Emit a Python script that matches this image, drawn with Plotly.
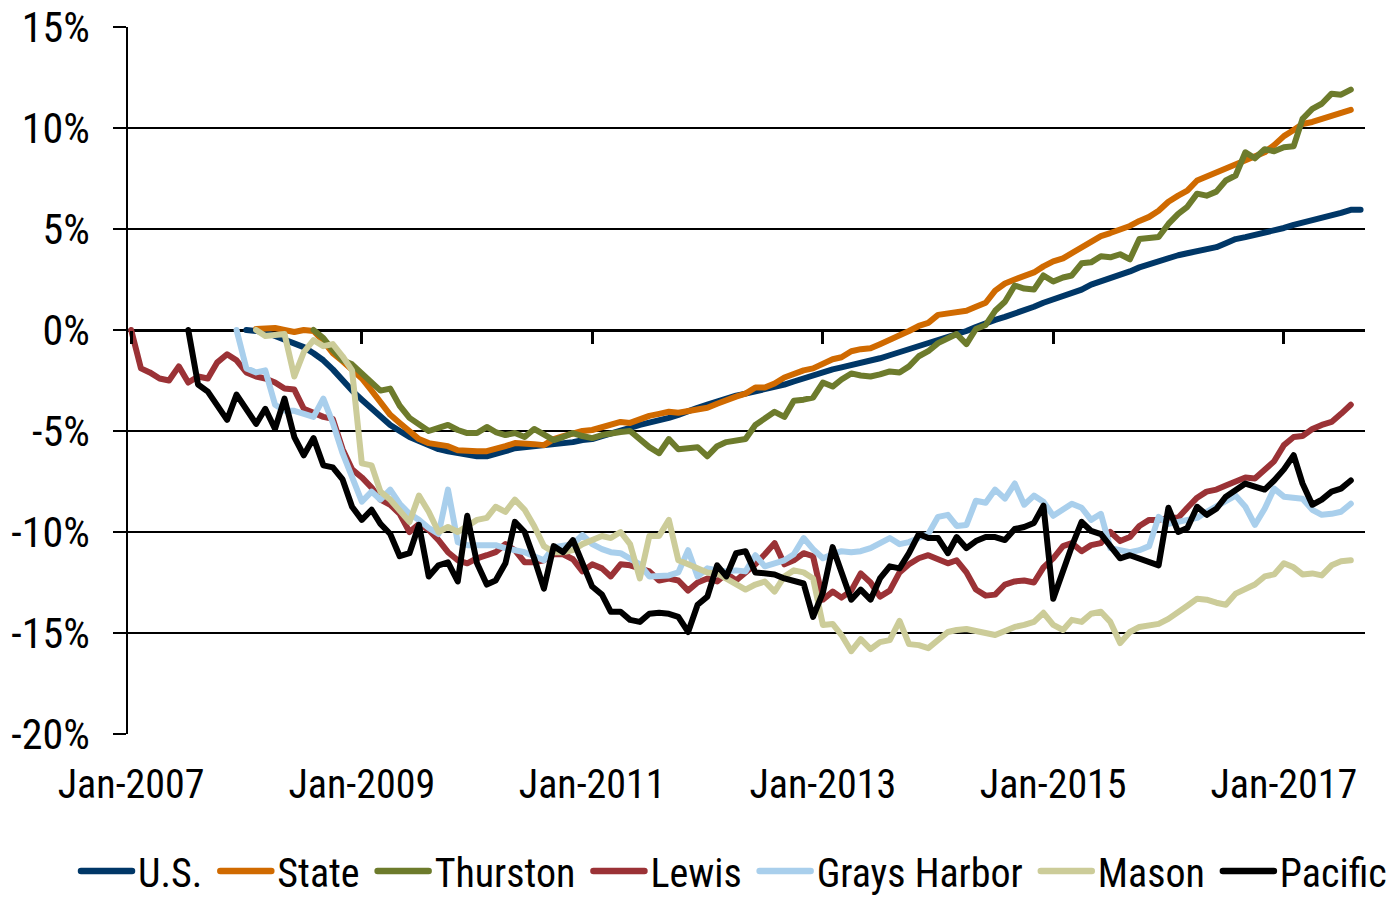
import pandas as pd
import plotly.graph_objects as go

# ---------------- data (percent change from each area's pre-recession peak) ----------------
series_names = ["U.S.", "State", "Thurston", "Lewis", "Grays Harbor", "Mason", "Pacific"]
series_colors = ["#003767", "#D06A00", "#6D7B2C", "#9B3236", "#A9CFEC", "#CCCC99", "#000000"]

# first month of each series (monthly data)
series_starts = ["2008-01-01", "2008-02-01", "2008-08-01", "2007-01-01",
                 "2007-12-01", "2008-02-01", "2007-07-01"]

us = [0, -0.05, -0.1, -0.3, -0.5, -0.7, -0.85, -1.15, -1.5, -1.95, -2.5, -3.0, -3.45, -3.9, -4.3,
      -4.7, -5.0, -5.3, -5.5, -5.7, -5.9, -6.0, -6.1, -6.2, -6.25, -6.25, -6.15, -6.0, -5.85, -5.8,
      -5.75, -5.75, -5.7, -5.6, -5.55, -5.45, -5.4, -5.25, -5.1, -4.95, -4.85, -4.7, -4.6, -4.5,
      -4.35, -4.2, -4.0, -3.85, -3.7, -3.55, -3.35, -3.25, -3.15, -3.05, -2.95, -2.8, -2.7, -2.55,
      -2.4, -2.2, -2.1, -1.95, -1.85, -1.75, -1.6, -1.5, -1.4, -1.25, -1.1, -0.95, -0.8, -0.65,
      -0.5, -0.4, -0.25, -0.05, 0.15, 0.35, 0.5, 0.65, 0.8, 1.0, 1.15, 1.35, 1.5, 1.7, 1.85, 2.0,
      2.25, 2.4, 2.6, 2.75, 2.9, 3.1, 3.25, 3.45, 3.6, 3.7, 3.8, 3.9, 4.0, 4.1, 4.3, 4.5, 4.6, 4.7,
      4.8, 4.95, 5.05, 5.2, 5.3, 5.45, 5.55, 5.7, 5.8, 5.95, 5.95]

state = [0.05, 0.1, 0.1, 0.0, -0.1, 0.0, -0.05, -0.55, -1.15, -1.55, -2.0, -2.4, -3.0, -3.6, -4.2,
         -4.6, -5.05, -5.4, -5.6, -5.65, -5.75, -5.95, -6.0, -6.0, -6.0, -5.9, -5.75, -5.6, -5.6,
         -5.65, -5.7, -5.4, -5.25, -5.1, -5.0, -4.95, -4.8, -4.7, -4.55, -4.6, -4.4, -4.25, -4.15,
         -4.05, -4.1, -4.0, -3.9, -3.85, -3.65, -3.45, -3.3, -3.15, -2.85, -2.85, -2.65, -2.35,
         -2.15, -2.0, -1.9, -1.65, -1.45, -1.35, -1.05, -0.95, -0.9, -0.7, -0.5, -0.25, -0.05, 0.2,
         0.35, 0.75, 0.8, 0.9, 0.95, 1.15, 1.35, 1.95, 2.3, 2.5, 2.65, 2.85, 3.15, 3.4, 3.55, 3.8,
         4.05, 4.3, 4.65, 4.8, 4.95, 5.15, 5.4, 5.6, 5.9, 6.35, 6.65, 6.9, 7.4, 7.6, 7.8, 8.0, 8.2,
         8.4, 8.6, 8.8, 9.15, 9.6, 9.9, 10.2, 10.3, 10.45, 10.6, 10.75, 10.9]

thurston = [0, -0.4, -1.0, -1.5, -1.7, -2.15, -2.6, -3.0, -2.9, -3.75, -4.35, -4.7, -5.0, -4.85,
            -4.7, -4.95, -5.1, -5.1, -4.8, -5.05, -5.2, -5.1, -5.3, -4.9, -5.15, -5.45, -5.3, -5.1,
            -5.25, -5.35, -5.2, -5.1, -5.05, -5.0, -5.45, -5.8, -6.1, -5.4, -5.9, -5.85, -5.8,
            -6.25, -5.75, -5.55, -5.45, -5.4, -4.7, -4.4, -4.05, -4.3, -3.5, -3.45, -3.35, -2.6,
            -2.8, -2.45, -2.15, -2.25, -2.3, -2.2, -2.05, -2.1, -1.8, -1.3, -1.05, -0.65, -0.45,
            -0.2, -0.7, 0.05, 0.25, 0.95, 1.4, 2.2, 2.05, 2.0, 2.7, 2.4, 2.6, 2.7, 3.3, 3.35, 3.65,
            3.6, 3.75, 3.5, 4.5, 4.55, 4.6, 5.25, 5.75, 6.1, 6.75, 6.65, 6.85, 7.4, 7.65, 8.8, 8.5,
            8.95, 8.85, 9.05, 9.1, 10.45, 10.95, 11.2, 11.7, 11.65, 11.9]

lewis = [0, -1.9, -2.1, -2.4, -2.5, -1.8, -2.6, -2.3, -2.4, -1.6, -1.2, -1.5, -2.1, -2.3, -2.4,
         -2.6, -2.9, -2.95, -3.9, -4.1, -4.3, -4.4, -5.9, -6.9, -7.3, -7.8, -8.4, -8.65, -9.1,
         -10.0, -9.6, -9.9, -10.4, -11.0, -11.4, -11.55, -11.3, -11.15, -11.0, -10.6, -10.9,
         -11.5, -11.5, -11.4, -11.1, -11.1, -11.35, -11.95, -11.6, -11.8, -12.2, -11.6, -11.65,
         -11.8, -11.95, -12.4, -12.3, -12.4, -12.9, -12.5, -12.3, -12.45, -12.05, -12.4, -12.0,
         -11.6, -11.1, -10.55, -11.6, -11.4, -11.05, -11.2, -13.35, -12.95, -13.25, -12.9, -12.05,
         -12.5, -13.2, -12.9, -12.0, -11.6, -11.3, -11.15, -11.35, -11.55, -11.4, -12.0, -12.85,
         -13.15, -13.1, -12.6, -12.45, -12.4, -12.5, -11.75, -11.3, -10.7, -10.55, -10.95, -10.65,
         -10.55, -10.0, -10.45, -10.25, -9.7, -9.4, -9.4, -9.3, -9.3, -8.8, -8.3, -8.0, -7.9, -7.7,
         -7.5, -7.3, -7.35, -6.9, -6.5, -5.7, -5.3, -5.25, -4.9, -4.7, -4.55, -4.15, -3.7]

grays_harbor = [0, -1.9, -2.1, -2.0, -3.7, -4.0, -4.0, -4.15, -4.3, -3.4, -4.6, -6.1, -7.3, -8.5,
                -8.0, -8.4, -7.9, -8.6, -9.1, -9.4, -9.8, -10.1, -7.9, -10.5, -10.65, -10.65,
                -10.7, -10.65, -10.8, -10.9, -11.0, -11.2, -11.4, -10.75, -10.7, -10.6, -10.15,
                -10.6, -10.85, -11.0, -11.05, -11.3, -11.6, -12.2, -12.2, -12.15, -12.0, -10.9,
                -12.2, -11.8, -11.9, -11.95, -11.9, -11.95, -11.15, -11.7, -11.55, -11.4, -11.1,
                -10.3, -10.85, -11.3, -11.1, -10.95, -11.0, -10.95, -10.8, -10.55, -10.3, -10.6,
                -10.5, -10.3, -10.1, -9.25, -9.15, -9.7, -9.65, -8.45, -8.55, -7.9, -8.35, -7.6,
                -8.65, -8.2, -8.5, -9.2, -8.9, -8.6, -8.8, -9.4, -9.1, -10.8, -10.9, -11.0, -10.9,
                -10.7, -9.25, -9.6, -9.5, -9.4, -9.3, -9.0, -8.75, -8.45, -8.2, -8.75, -9.65, -8.85,
                -7.85, -8.25, -8.3, -8.35, -8.9, -9.15, -9.1, -9.0, -8.6]

mason = [0, -0.3, -0.25, -0.2, -2.3, -1.1, -0.5, -0.8, -0.7, -1.3, -2.0, -6.6, -6.7, -8.0, -8.4,
         -8.9, -9.5, -8.2, -9.0, -10.0, -9.75, -10.0, -9.7, -9.4, -9.3, -8.75, -9.0, -8.4, -8.9,
         -9.7, -10.7, -11.0, -11.0, -10.9, -10.6, -10.4, -10.2, -10.3, -10.0, -10.6, -12.3, -10.2,
         -10.2, -9.4, -11.4, -11.6, -11.8, -12.0, -12.05, -12.3, -12.6, -12.85, -12.6, -12.45,
         -12.95, -12.2, -11.9, -12.0, -12.3, -14.6, -14.55, -15.1, -15.9, -15.3, -15.8, -15.45,
         -15.35, -14.4, -15.55, -15.6, -15.75, -15.35, -14.95, -14.85, -14.8, -14.9, -15.0, -15.1,
         -14.9, -14.7, -14.6, -14.45, -14.0, -14.6, -14.85, -14.35, -14.45, -14.05, -13.95,
         -14.45, -15.5, -14.95, -14.7, -14.65, -14.55, -14.3, -14.0, -13.65, -13.3, -13.35,
         -13.5, -13.6, -13.05, -12.85, -12.6, -12.2, -12.1, -11.55, -11.75, -12.1, -12.05, -12.15,
         -11.65, -11.45, -11.4]

pacific = [0, -2.7, -3.05, -3.8, -4.45, -3.2, -3.9, -4.65, -3.9, -4.9, -3.4, -5.3, -6.2, -5.35,
           -6.7, -6.8, -7.4, -8.75, -9.4, -8.9, -9.6, -10.1, -11.2, -11.05, -9.65, -12.2, -11.65,
           -11.5, -12.45, -9.2, -11.55, -12.6, -12.4, -11.55, -9.5, -10.0, -11.3, -12.8, -10.7,
           -11.0, -10.4, -11.55, -12.7, -13.1, -13.95, -13.95, -14.35, -14.45, -14.05, -14.0,
           -14.05, -14.2, -14.95, -13.6, -13.2, -11.65, -12.2, -11.05, -10.95, -12.0, -12.05,
           -12.1, -12.3, -12.45, -12.55, -14.2, -13.0, -10.75, -12.05, -13.35, -12.85, -13.35,
           -12.3, -11.7, -11.8, -11.05, -10.1, -10.3, -10.3, -11.05, -10.25, -10.8, -10.45, -10.25,
           -10.25, -10.4, -9.85, -9.75, -9.55, -8.7, -13.3, -11.9, -10.7, -9.5, -9.95, -10.1,
           -10.7, -11.3, -11.15, -11.3, -11.5, -11.65, -8.8, -10.0, -9.8, -8.75, -9.15, -8.85,
           -8.25, -7.9, -7.6, -7.75, -7.9, -7.45, -6.9, -6.2, -7.6, -8.65, -8.4, -8.0, -7.85, -7.45]

series_values = [us, state, thurston, lewis, grays_harbor, mason, pacific]

y_tick_values = [-20, -15, -10, -5, 0, 5, 10, 15]
y_tick_labels = ["-20%", "-15%", "-10%", "-5%", "0%", "5%", "10%", "15%"]

# ---------------- figure ----------------
FONT = "Roboto Condensed, Liberation Sans Narrow, Arial Narrow, sans-serif"
FS = 40

fig = go.Figure()
for name, color, start, vals in zip(series_names, series_colors, series_starts, series_values):
    dates = pd.date_range(start, periods=len(vals), freq="MS")
    fig.add_trace(go.Scatter(
        x=dates, y=vals, name=name, mode="lines",
        line=dict(color=color, width=6),
        hoverinfo="skip",
    ))

# empty helper trace so the overlaid axis carrying the tick marks on the 0% line is drawn
fig.add_trace(go.Scatter(x=[], y=[], xaxis="x2", yaxis="y", mode="lines",
                         showlegend=False, hoverinfo="skip"))

x_range = ["2006-12-22", "2017-09-15"]

fig.update_layout(
    width=1389, height=897,
    margin=dict(l=128, r=24, t=27, b=163, autoexpand=False),
    paper_bgcolor="white", plot_bgcolor="white",
    font=dict(family=FONT, size=FS, color="black"),
    showlegend=True,
    legend=dict(
        orientation="h", xref="container", yref="container",
        x=0.055, xanchor="left", y=1 - 871 / 897, yanchor="middle",
        font=dict(family=FONT, size=FS, color="black"),
        itemwidth=30, bgcolor="rgba(0,0,0,0)",
    ),
    xaxis=dict(
        type="date", range=x_range, automargin=False,
        tick0="2007-01-01", dtick="M24", tickformat="%b-%Y",
        showgrid=False, zeroline=False, showline=False,
        ticks="", ticklabelstandoff=23,
        tickfont=dict(family=FONT, size=FS, color="black"),
    ),
    xaxis2=dict(
        type="date", overlaying="x", matches="x", anchor="free", position=20 / 35,
        side="bottom", tick0="2007-01-01", dtick="M24", automargin=False,
        ticks="outside", ticklen=13, tickwidth=3, tickcolor="black",
        showticklabels=False, showgrid=False, zeroline=False, showline=False,
    ),
    yaxis=dict(
        range=[-20, 15], tickvals=y_tick_values, ticktext=y_tick_labels, automargin=False,
        showgrid=True, gridcolor="black", gridwidth=1.6,
        zeroline=True, zerolinecolor="black", zerolinewidth=3,
        showline=True, linecolor="black", linewidth=1.6,
        ticks="outside", ticklen=13, tickwidth=1.6, tickcolor="black",
        ticklabelstandoff=15,
        tickfont=dict(family=FONT, size=42, color="black"),
    ),
)

# Page/styling touches: no body margin, round line joins,
# longer legend keys laid out like the reference.
post_script = r"""
document.body.style.margin = '0';
try {
  var gd = document.querySelectorAll('.plotly-graph-div')[0];
  gd.querySelectorAll('.scatterlayer path.js-line').forEach(function(p){
    p.style.strokeLinejoin = 'round'; p.style.strokeLinecap = 'round';
  });
  var leg = gd.querySelector('g.legend');
  var sb = leg.querySelector('.scrollbox');
  if (sb) { sb.removeAttribute('clip-path'); }
  var items = leg.querySelectorAll('g.traces');
  var re = /translate\(\s*([-\d.e]+)[ ,]+([-\d.e]+)\s*\)/;
  var x = 0;
  items.forEach(function(g){
    var t = g.querySelector('text.legendtext');
    var tw = t.getComputedTextLength();
    var m = re.exec(g.getAttribute('transform') || '');
    var y = m ? parseFloat(m[2]) : 0;
    g.setAttribute('transform', 'translate(' + x + ',' + y + ')');
    g.querySelectorAll('.legendlines path').forEach(function(p){
      p.setAttribute('d', 'M0,0h51');
      p.style.strokeLinecap = 'round';
      p.style.strokeWidth = '6.5px';
    });
    t.setAttribute('x', 57);
    x += 57 + tw + 18;
  });
  var first = items[0].querySelector('.legendlines path');
  var r = first.getBoundingClientRect();
  var dx = 81 - r.left;
  var m2 = re.exec(leg.getAttribute('transform') || '');
  if (m2) { leg.setAttribute('transform', 'translate(' + (parseFloat(m2[1]) + dx) + ',' + m2[2] + ')'); }
} catch (e) {}
"""

fig.write_html("out.html", post_script=post_script, config={"displayModeBar": False})
